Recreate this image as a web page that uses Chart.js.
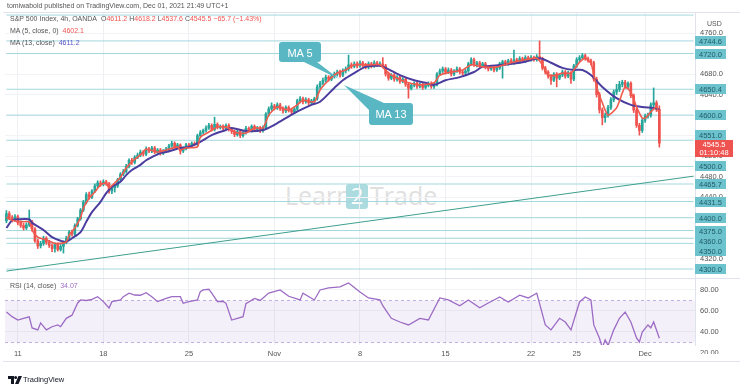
<!DOCTYPE html>
<html><head><meta charset="utf-8">
<script src="https://cdn.jsdelivr.net/npm/chart.js@4.4.0/dist/chart.umd.min.js"></script>
<style>
html,body{margin:0;padding:0;background:#fff;}
#wrap{position:relative;width:740px;height:390px;overflow:hidden;font-family:"Liberation Sans",Arial,sans-serif;}
#wrap canvas,#wrap svg{position:absolute;left:0;top:0;}
.t{position:absolute;white-space:nowrap;font-size:7px;color:#555;line-height:8px;}
.r{color:#ef5350;font-weight:normal}
.p{color:#5b52c8;font-weight:normal}
.v{color:#9c6bc4;font-weight:normal}
</style></head><body>
<div id="wrap">
<svg width="740" height="390" id="wm">
  <text x="285" y="205" font-family="Open Sans" font-size="25" fill="#e0e0e0">Learn</text>
  <rect x="346" y="184" width="22" height="25" rx="3" fill="#acdbe0"/>
  <text x="357" y="204" font-family="Open Sans" font-size="22" fill="#ffffff" text-anchor="middle">2</text>
  <text x="370" y="205" font-family="Open Sans" font-size="25" fill="#e0e0e0">Trade</text>
</svg>
<canvas id="c" width="740" height="390"></canvas>
<svg width="740" height="390" id="co">
  <path d="M282,42 h36 a3,3 0 0 1 3,3 v14 a3,3 0 0 1 -3,3 h-1 L339,79 L304,62 h-22 a3,3 0 0 1 -3,-3 v-14 a3,3 0 0 1 3,-3 z" fill="#58b7c3"/>
  <text x="300" y="56.5" font-family="Liberation Sans" font-size="11" fill="#fff" text-anchor="middle">MA 5</text>
  <path d="M372,103 h38 a3,3 0 0 1 3,3 v16 a3,3 0 0 1 -3,3 h-38 a3,3 0 0 1 -3,-3 v-12 L344,85 L384,103 z" fill="#58b7c3"/>
  <text x="391" y="118" font-family="Liberation Sans" font-size="11" fill="#fff" text-anchor="middle">MA 13</text>
  <path d="M8,376 h6 v8 h-3 v-5 h-3 z M18.5,376 h3.5 l-3.5,8 h-3.5 z" fill="#131722"/>
  <circle cx="15.6" cy="377.6" r="1.5" fill="#131722"/>
</svg>
<div class="t" style="left:7px;top:2px">tomiwabold published on TradingView.com, Dec 01, 2021 21:49 UTC+1</div>
<div class="t" style="left:10px;top:15px">S&amp;P 500 Index, 4h, OANDA&nbsp; O<b class="r">4611.2</b> H<b class="r">4618.2</b> L<b class="r">4537.6</b> C<b class="r">4545.5</b> <b class="r">−65.7 (−1.43%)</b></div>
<div class="t" style="left:10px;top:27px">MA (5, close, 0)&nbsp; <b class="r">4602.1</b></div>
<div class="t" style="left:10px;top:39px">MA (13, close)&nbsp; <b class="p">4611.2</b></div>
<div class="t" style="left:10px;top:282px">RSI (14, close)&nbsp; <b class="v">34.07</b></div>
<div class="t" style="left:707px;top:20px">USD</div>
<div class="t" style="left:23px;top:376px;color:#131722;font-size:7.5px">TradingView</div>
</div>
<script>
// ---- data ----
const tickSlots  = [4, 34, 64, 94, 124, 154, 184, 200, 224];
const tickLabels = ['11', '18', '25', 'Nov', '8', '15', '22', '25', 'Dec'];
const priceTicks = [4320, 4360, 4400, 4440, 4480, 4520, 4560, 4600, 4640, 4680, 4720, 4760];
const rsiTicks   = [40, 60, 80];
const rsiEdgeTick = 20;
const rsiBand    = [30, 70];
const levels     = [4744.6, 4720.0, 4650.4, 4600.0, 4551.0, 4500.0, 4465.7, 4431.5, 4400.0, 4375.0, 4360.0, 4350.0, 4300.0];
const unlabeledLevels = [4795.0];
const trendSlots = [0, 241];
const trendVals  = [4296, 4481];
const countdown  = '01:10:48';

const opens = [4394,4408,4400,4396,4402,4390,4385,4380,4386,4392,
4378,4355,4345,4350,4360,4352,4346,4340,4348,4338,
4344,4352,4360,4372,4368,4385,4398,4415,4430,4445,
4440,4452,4462,4468,4465,4470,4466,4452,4458,4462,
4474,4485,4490,4500,4512,4508,4518,4522,4528,4524,
4534,4530,4536,4528,4532,4526,4530,4534,4540,4545,
4538,4542,4530,4535,4542,4540,4545,4543,4560,4566,
4570,4575,4580,4572,4582,4576,4578,4574,4580,4572,
4568,4562,4568,4560,4566,4574,4570,4578,4572,4575,
4570,4576,4602,4612,4618,4614,4620,4612,4608,4615,
4610,4606,4612,4628,4632,4626,4630,4624,4628,4632,
4655,4662,4668,4674,4670,4676,4680,4684,4678,4686,
4690,4698,4695,4700,4696,4702,4698,4694,4700,4696,
4702,4698,4700,4696,4680,4672,4678,4670,4674,4666,
4670,4660,4652,4658,4662,4656,4660,4654,4658,4662,
4656,4660,4680,4686,4690,4684,4688,4680,4686,4690,
4684,4682,4686,4700,4708,4698,4702,4696,4700,4694,
4690,4694,4688,4692,4700,4704,4700,4706,4702,4708,
4704,4710,4706,4712,4708,4712,4708,4714,4710,4692,
4684,4676,4668,4680,4672,4678,4684,4676,4682,4670,
4696,4708,4712,4716,4710,4706,4702,4670,4640,4610,
4595,4600,4615,4630,4645,4650,4660,4664,4656,4662,
4638,4610,4580,4570,4590,4598,4600,4620,4624,4611.2];
const highs = [4414,4412,4404,4406,4405,4394,4389,4390,4415,4395,
4381,4358,4354,4364,4363,4356,4349,4351,4351,4348,
4355,4364,4375,4376,4388,4401,4418,4434,4449,4450,
4455,4466,4472,4472,4474,4473,4469,4461,4465,4477,
4488,4494,4504,4515,4516,4521,4526,4532,4531,4538,
4537,4539,4539,4535,4535,4533,4537,4543,4549,4548,
4545,4544,4538,4545,4545,4548,4548,4563,4570,4573,
4579,4584,4583,4596,4585,4581,4581,4583,4583,4575,
4571,4571,4571,4569,4578,4577,4581,4581,4578,4578,
4579,4605,4616,4624,4621,4624,4623,4616,4618,4618,
4613,4615,4631,4636,4635,4634,4633,4631,4635,4659,
4666,4672,4678,4677,4680,4684,4688,4688,4690,4694,
4717,4702,4704,4704,4706,4705,4701,4704,4703,4706,
4705,4704,4712,4699,4684,4681,4681,4677,4677,4673,
4673,4663,4661,4665,4665,4663,4663,4661,4665,4665,
4663,4683,4690,4694,4693,4692,4691,4689,4694,4693,
4687,4689,4703,4712,4711,4705,4705,4703,4703,4697,
4697,4697,4695,4703,4707,4707,4709,4710,4727,4711,
4714,4713,4716,4715,4716,4715,4718,4744.6,4713,4695,
4687,4679,4683,4683,4681,4688,4687,4686,4685,4699,
4712,4716,4720,4719,4713,4709,4705,4674,4644,4614,
4604,4619,4634,4649,4660,4666,4668,4668,4665,4665,
4641,4614,4584,4593,4602,4604,4624,4653,4628,4618.2];
const lows = [4390,4396,4392,4393,4386,4381,4376,4377,4383,4374,
4352,4340,4341,4346,4348,4342,4334,4333,4335,4335,
4331,4349,4357,4364,4365,4382,4395,4412,4427,4436,
4437,4449,4459,4461,4462,4463,4448,4447,4450,4459,
4471,4482,4487,4497,4504,4505,4515,4519,4520,4521,
4527,4527,4525,4525,4522,4523,4527,4531,4537,4535,
4535,4524,4527,4532,4536,4537,4540,4540,4557,4563,
4567,4572,4569,4569,4573,4573,4571,4571,4569,4564,
4558,4559,4556,4557,4563,4567,4567,4569,4569,4566,
4567,4573,4598,4609,4610,4611,4609,4604,4605,4606,
4602,4603,4609,4624,4622,4623,4620,4621,4625,4629,
4651,4659,4664,4666,4667,4672,4676,4674,4675,4682,
4686,4691,4692,4692,4693,4694,4690,4690,4692,4693,
4695,4695,4692,4676,4668,4669,4666,4666,4662,4663,
4656,4633,4649,4655,4652,4653,4650,4651,4655,4652,
4652,4657,4677,4683,4680,4681,4676,4677,4683,4680,
4678,4679,4683,4697,4695,4694,4692,4693,4690,4686,
4687,4684,4685,4689,4672,4697,4697,4699,4699,4701,
4701,4703,4703,4705,4705,4705,4705,4706,4688,4680,
4672,4660,4665,4655,4669,4675,4672,4673,4662,4667,
4693,4704,4709,4707,4703,4698,4666,4635,4604,4581,
4586,4596,4611,4626,4640,4646,4655,4652,4652,4634,
4605,4576,4561,4566,4586,4594,4596,4616,4607,4537.6];
const closes = [4408,4400,4396,4402,4390,4385,4380,4386,4392,4378,
4355,4345,4350,4360,4352,4346,4340,4348,4338,4344,
4352,4360,4372,4368,4385,4398,4415,4430,4445,4440,
4452,4462,4468,4465,4470,4466,4452,4458,4462,4474,
4485,4490,4500,4512,4508,4518,4522,4528,4524,4534,
4530,4536,4528,4532,4526,4530,4534,4540,4545,4538,
4542,4530,4535,4542,4540,4545,4543,4560,4566,4570,
4575,4580,4572,4582,4576,4578,4574,4580,4572,4568,
4562,4568,4560,4566,4574,4570,4578,4572,4575,4570,
4576,4602,4612,4618,4614,4620,4612,4608,4615,4610,
4606,4612,4628,4632,4626,4630,4624,4628,4632,4655,
4662,4668,4674,4670,4676,4680,4684,4678,4686,4690,
4698,4695,4700,4696,4702,4698,4694,4700,4696,4702,
4698,4700,4696,4680,4672,4678,4670,4674,4666,4670,
4660,4652,4658,4662,4656,4660,4654,4658,4662,4656,
4660,4680,4686,4690,4684,4688,4680,4686,4690,4684,
4682,4686,4700,4708,4698,4702,4696,4700,4694,4690,
4694,4688,4692,4700,4704,4700,4706,4702,4708,4704,
4710,4706,4712,4708,4712,4708,4714,4710,4692,4684,
4676,4668,4680,4672,4678,4684,4676,4682,4670,4696,
4708,4712,4716,4710,4706,4702,4670,4640,4610,4595,
4600,4615,4630,4645,4650,4660,4664,4656,4662,4638,
4610,4580,4570,4590,4598,4600,4620,4624,4611.2,4545.5];

const ma5Idx = [0,2,5,8,9,11,14,17,19,21,22,24,26,27,29,31,33,35,36,38,40,42,44,46,48,49,53,56,60,61,63,67,68,71,74,77,81,84,87,90,92,95,99,102,104,108,110,113,116,119,122,127,131,134,137,141,145,150,152,156,160,163,167,172,177,181,186,188,190,193,195,198,201,203,205,207,209,211,214,216,217,219,221,223,224,226,228,229];
const ma5Val = [4401,4395,4392,4392,4376,4362,4357,4350,4350,4353,4366,4380,4400,4419,4438,4450,4464,4468,4458,4468,4479,4497,4509,4518,4528,4534,4528,4532,4538,4532,4536,4538,4557,4567,4577,4577,4565,4565,4575,4575,4600,4616,4610,4620,4629,4626,4649,4668,4682,4688,4698,4698,4698,4682,4672,4663,4659,4663,4678,4684,4688,4698,4694,4694,4702,4707,4711,4698,4678,4678,4682,4682,4703,4711,4701,4655,4624,4600,4614,4643,4655,4645,4616,4594,4594,4606,4616,4602.1];
const ma13Idx = [0,2,4,8,9,13,16,19,21,23,26,28,30,33,35,37,40,42,44,47,49,51,54,56,61,64,68,72,77,79,84,90,94,101,107,110,115,118,122,126,131,133,138,143,147,150,154,159,164,167,174,181,187,191,195,199,202,205,209,214,219,223,227,229];
const ma13Val = [4380,4395,4397,4397,4390,4376,4362,4355,4353,4360,4372,4392,4411,4431,4448,4460,4470,4483,4493,4503,4512,4518,4526,4528,4536,4538,4548,4561,4571,4575,4569,4571,4581,4604,4620,4626,4653,4668,4682,4694,4696,4692,4678,4668,4663,4659,4668,4674,4684,4694,4698,4703,4711,4702,4692,4688,4688,4678,4655,4633,4620,4616,4614,4611.2];
const rsiIdx = [0,2,4,6,8,9,11,12,14,16,18,19,21,23,25,26,28,30,32,34,36,37,40,41,43,45,47,49,51,53,56,58,61,62,64,67,68,69,71,72,74,76,77,79,81,83,84,87,89,92,96,99,103,104,108,110,113,117,120,124,127,131,132,135,138,141,145,148,152,155,159,162,166,169,173,176,180,183,186,189,191,194,196,198,201,203,205,206,208,209,210,211,213,215,217,219,221,222,223,225,226,227,229];
const rsiVal = [59,54.6,51.4,53,54.5,43.8,42,48.6,42,45,46.7,45,53,56,67.6,70.5,70,71,73.6,68.9,62.8,68.9,70.5,73.6,76.9,75.2,75,77.4,73.6,68.9,72,73.6,73.6,67.3,69,70.5,78.4,80,80.7,77,69,69,67.3,51.4,53,54.6,67,72,70,77,80,74,70.5,77,70.5,80,82,83,86.7,78,72.4,70.5,65,53,49.5,46.7,53,51.4,72.4,70.5,65,70.5,63,67.6,73.3,68.6,75,72.4,77,46.7,42,53,49.5,42,68.6,73.3,70.5,46.7,34,25,32.4,27,42,53,59,49.5,34.3,30.5,40,46.7,44,49.5,34.07];

// ---- chart ----
const FONT = 'Liberation Sans';
const UP = '#26a69a', DOWN = '#ef5350';
const slotCount = 242;
const slots = Array.from({length: slotCount}, (_, i) => i);
const candleColors = closes.map((c, i) => c >= opens[i] ? UP : DOWN);
const pts = (xs, ys) => xs.map((x, i) => ({x, y: ys[i]}));

const levelSets = levels.concat(unlabeledLevels).map(v => ({
  type: 'line', yAxisID: 'y', order: 10,
  data: [{x: 0, y: v}, {x: slotCount - 1, y: v}],
  borderColor: '#a3d7de', borderWidth: 1, pointRadius: 0
}));

const overlay = {
  id: 'overlay',
  beforeDatasetsDraw(c) {
    const {ctx, chartArea: a} = c; const yr = c.scales.yr;
    const t = yr.getPixelForValue(rsiBand[1]), b = yr.getPixelForValue(rsiBand[0]);
    ctx.save();
    ctx.fillStyle = 'rgba(126,87,194,0.09)';
    ctx.fillRect(a.left, t, a.right - a.left, b - t);
    ctx.strokeStyle = 'rgba(150,115,200,0.55)'; ctx.lineWidth = 1; ctx.setLineDash([3, 3]);
    rsiBand.forEach(v => { const y = Math.round(yr.getPixelForValue(v)) + 0.5;
      ctx.beginPath(); ctx.moveTo(a.left, y); ctx.lineTo(a.right, y); ctx.stroke(); });
    ctx.restore();
  },
  afterDraw(c) {
    const {ctx, chartArea: a} = c; const y = c.scales.y, yr = c.scales.yr, x = c.scales.x;
    ctx.save();
    ctx.strokeStyle = '#e0e3eb'; ctx.lineWidth = 1;
    const sep = Math.round(y.bottom) + 0.5;
    ctx.beginPath(); ctx.moveTo(0, sep); ctx.lineTo(740, sep); ctx.stroke();
    ctx.beginPath(); ctx.moveTo(3, Math.round(a.top) + 0.5); ctx.lineTo(740, Math.round(a.top) + 0.5); ctx.stroke();
    const xb = Math.round(x.bottom) + 0.5;
    ctx.beginPath(); ctx.moveTo(3, xb); ctx.lineTo(740, xb); ctx.stroke();
    const ax = Math.round(y.left);
    // last price box position
    const last = closes[closes.length - 1];
    const lp = Math.round(y.getPixelForValue(last));
    const redTop = lp - 3, redBot = lp + 14;
    // level labels on the price axis
    const items = levels.map(v => ({v, p: y.getPixelForValue(v)})).sort((m, n) => m.p - n.p);
    let prev = -1e9;
    ctx.save();
    ctx.beginPath(); ctx.rect(ax, y.top, 45, y.bottom - y.top); ctx.clip();
    ctx.font = '7.5px "' + FONT + '"'; ctx.textAlign = 'center'; ctx.textBaseline = 'middle';
    items.forEach(it => {
      let p = Math.max(it.p, prev + 9.5);
      if (p + 5 > redTop && p - 5 < redBot) p = (it.p < (redTop + redBot) / 2) ? redTop - 5.5 : redBot + 5.5;
      p = Math.round(p); prev = p;
      ctx.fillStyle = '#6cc3cd'; ctx.fillRect(ax, p - 5, 31, 10);
      ctx.fillStyle = '#1f5a68'; ctx.fillText(it.v.toFixed(1), ax + 15.5, p + 0.5);
    });
    ctx.restore();
    ctx.font = '7.5px "' + FONT + '"'; ctx.textAlign = 'center'; ctx.textBaseline = 'middle';
    ctx.fillStyle = '#ef5350'; ctx.fillRect(ax, redTop, 38, redBot - redTop);
    ctx.fillStyle = '#ffffff';
    ctx.fillText(last.toFixed(1), ax + 19, lp + 2);
    ctx.fillText(countdown, ax + 19, lp + 9.5);
    // bottom RSI tick, clipped at the axis edge
    ctx.beginPath(); ctx.rect(ax, yr.top, 45, x.bottom - yr.top - 7); ctx.clip();
    ctx.textAlign = 'left'; ctx.fillStyle = '#555';
    ctx.fillText(rsiEdgeTick.toFixed(2), ax + 5, yr.getPixelForValue(rsiEdgeTick));
    ctx.restore();
  }
};

new Chart(document.getElementById('c'), {
  type: 'bar',
  data: {
    labels: slots,
    datasets: [
      ...levelSets,
      {type: 'line', yAxisID: 'y', order: 9, data: pts(trendSlots, trendVals), borderColor: '#3e9f8c', borderWidth: 1, pointRadius: 0},
      {type: 'bar', yAxisID: 'y', order: 6, data: lows.map((l, i) => [l, highs[i]]), backgroundColor: candleColors, barThickness: 1, grouped: false},
      {type: 'bar', yAxisID: 'y', order: 5, data: opens.map((o, i) => [o, closes[i]]), backgroundColor: candleColors, barThickness: 2, grouped: false},
      {type: 'line', yAxisID: 'y', order: 2, data: pts(ma13Idx, ma13Val), borderColor: '#4b3d9e', borderWidth: 2, pointRadius: 0, tension: 0.3},
      {type: 'line', yAxisID: 'y', order: 1, data: pts(ma5Idx, ma5Val), borderColor: '#f05a4e', borderWidth: 1.6, pointRadius: 0, tension: 0.2},
      {type: 'line', yAxisID: 'yr', order: 1, data: pts(rsiIdx, rsiVal), borderColor: '#9c6bc4', borderWidth: 1.3, pointRadius: 0}
    ]
  },
  options: {
    responsive: false, animation: false, devicePixelRatio: 1,
    layout: {padding: {left: 5, right: 0, top: 12, bottom: 29}},
    plugins: {legend: {display: false}, tooltip: {enabled: false}},
    scales: {
      x: {
        type: 'category', offset: true,
        grid: {offset: false, color: '#eef0f4', drawTicks: false},
        border: {display: false},
        ticks: {autoSkip: false, maxRotation: 0, padding: 4, color: '#555', font: {size: 7.5, family: FONT},
          callback: (v, i) => { const k = tickSlots.indexOf(i); return k < 0 ? null : tickLabels[k]; }},
        afterFit: s => { s.height = 16; }
      },
      y: {
        position: 'right', stack: 'pane', stackWeight: 266, min: 4282.5, max: 4801,
        grid: {color: '#f1f3f6', drawTicks: false}, border: {color: '#e0e3eb'},
        ticks: {color: '#555', padding: 5, font: {size: 7.5, family: FONT}, callback: v => Number(v).toFixed(1)},
        afterBuildTicks: s => { s.ticks = priceTicks.map(v => ({value: v})); },
        afterFit: s => { s.width = 45; }
      },
      yr: {
        position: 'right', stack: 'pane', stackWeight: 67, min: 27.6, max: 91.4,
        grid: {color: '#f1f3f6', drawTicks: false}, border: {color: '#e0e3eb'},
        ticks: {color: '#555', padding: 5, font: {size: 7.5, family: FONT}, callback: v => Number(v).toFixed(2)},
        afterBuildTicks: s => { s.ticks = rsiTicks.map(v => ({value: v})); },
        afterFit: s => { s.width = 45; }
      }
    }
  },
  plugins: [overlay]
});
</script>
</body></html>
